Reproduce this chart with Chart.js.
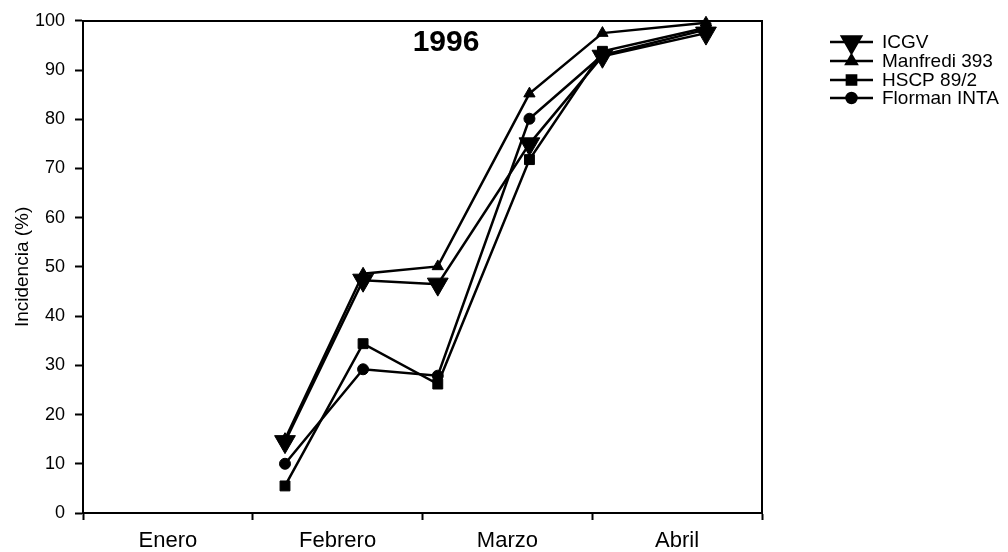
<!DOCTYPE html>
<html>
<head>
<meta charset="utf-8">
<script src="https://cdn.jsdelivr.net/npm/chart.js@4"></script>
<style>
html,body{margin:0;padding:0;background:#fff;}
#wrap{width:1008px;height:552px;position:relative;}
</style>
</head>
<body>
<div id="wrap"><canvas id="c" width="1008" height="552"></canvas></div>
<script>
// ---- data ----
const months = ['Enero', 'Febrero', 'Marzo', 'Abril'];
const dates = [1.19, 1.65, 2.09, 2.63, 3.06, 3.67]; // position in months from 1 Jan
const icgv = [14.5, 47.3, 46.5, 75.0, 92.8, 97.5];
const manfredi = [15.0, 48.6, 50.1, 85.2, 97.5, 99.6];
const hscp = [5.5, 34.4, 26.2, 71.8, 93.8, 98.6];
const florman = [10.0, 29.2, 27.9, 80.1, 93.0, 98.2];
const yTicks = [0,10,20,30,40,50,60,70,80,90,100];
const seriesNames = ['ICGV', 'Manfredi 393', 'HSCP 89/2', 'Florman INTA'];

const FONT = '"Liberation Sans", Arial, sans-serif';
const toXY = arr => arr.map((v, i) => ({x: dates[i], y: v}));

const styles = [
  {pointStyle: 'triangle', rotation: 180, radius: 12},
  {pointStyle: 'triangle', rotation: 0, radius: 6.5},
  {pointStyle: 'rect', rotation: 0, radius: 7},
  {pointStyle: 'circle', rotation: 0, radius: 5.5}
];
const values = [icgv, manfredi, hscp, florman];

const datasets = values.map((v, i) => ({
  label: seriesNames[i],
  data: toXY(v),
  showLine: true,
  borderColor: '#000',
  backgroundColor: '#000',
  borderWidth: 2.5,
  pointBorderWidth: 1,
  pointBorderColor: '#000',
  pointBackgroundColor: '#000',
  pointStyle: styles[i].pointStyle,
  pointRotation: styles[i].rotation,
  pointRadius: styles[i].radius,
  pointHoverRadius: styles[i].radius,
  clip: false,
  tension: 0
})).reverse();

const legendPlugin = {
  id: 'customLegend',
  afterDraw(chart) {
    const ctx = chart.ctx;
    const ys = [42, 61, 80, 98];
    ctx.save();
    seriesNames.forEach((name, i) => {
      const y = ys[i];
      ctx.strokeStyle = '#000';
      ctx.lineWidth = 2.5;
      ctx.beginPath();
      ctx.moveTo(830, y);
      ctx.lineTo(873, y);
      ctx.stroke();
      ctx.fillStyle = '#000';
      const st = styles[i];
      const r = i === 0 ? 11 : (i === 1 ? 6 : (i === 2 ? 6.5 : 5));
      Chart.helpers.drawPoint(ctx, {pointStyle: st.pointStyle, rotation: st.rotation, radius: r, borderWidth: 1}, 851.5, y);
      ctx.fillStyle = '#000';
      ctx.font = '19px ' + FONT;
      ctx.textBaseline = 'middle';
      ctx.textAlign = 'left';
      ctx.fillText(name, 882, y + 1);
    });
    // year label
    ctx.font = 'bold 30px ' + FONT;
    ctx.textAlign = 'center';
    ctx.textBaseline = 'middle';
    ctx.fillText('1996', 446, 43);
    ctx.restore();
  }
};

new Chart(document.getElementById('c'), {
  type: 'scatter',
  data: {datasets},
  options: {
    responsive: false,
    animation: false,
    events: [],
    layout: {padding: 0},
    plugins: {legend: {display: false}, tooltip: {enabled: false}},
    scales: {
      x: {
        type: 'linear',
        position: 'bottom',
        min: 0, max: 4,
        afterBuildTicks: s => { s.ticks = [0,0.5,1,1.5,2,2.5,3,3.5,4].map(v => ({value: v})); },
        afterFit: s => { s.height = 39; },
        ticks: {
          autoSkip: false,
          maxRotation: 0,
          color: '#000',
          padding: 8,
          font: {family: FONT, size: 22},
          callback: v => (v % 1 === 0.5 ? months[Math.floor(v)] : '')
        },
        grid: {
          drawOnChartArea: false,
          drawTicks: true,
          tickLength: 7,
          tickWidth: 2,
          tickColor: ctx => (ctx.tick && ctx.tick.value % 1 === 0 ? '#000' : 'rgba(0,0,0,0)')
        },
        border: {display: true, color: '#000', width: 2}
      },
      x2: {
        type: 'linear',
        position: 'top',
        min: 0, max: 4,
        afterFit: s => { s.height = 19; },
        ticks: {display: false},
        grid: {drawOnChartArea: false, drawTicks: false},
        border: {display: true, color: '#000', width: 2}
      },
      y: {
        type: 'linear',
        position: 'left',
        min: 0, max: 100,
        afterBuildTicks: s => { s.ticks = yTicks.map(v => ({value: v})); },
        afterFit: s => { s.width = 83; },
        ticks: {
          color: '#000',
          padding: 10,
          font: {family: FONT, size: 18}
        },
        title: {
          display: true,
          text: 'Incidencia (%)',
          color: '#000',
          font: {family: FONT, size: 19},
          padding: {top: 11, bottom: 0}
        },
        grid: {
          drawOnChartArea: false,
          drawTicks: true,
          tickLength: 8,
          tickWidth: 2,
          tickColor: '#000'
        },
        border: {display: true, color: '#000', width: 2}
      },
      y2: {
        type: 'linear',
        position: 'right',
        min: 0, max: 100,
        afterFit: s => { s.width = 246; },
        ticks: {display: false},
        grid: {drawOnChartArea: false, drawTicks: false},
        border: {display: true, color: '#000', width: 2}
      }
    }
  },
  plugins: [legendPlugin]
});
</script>
</body>
</html>
